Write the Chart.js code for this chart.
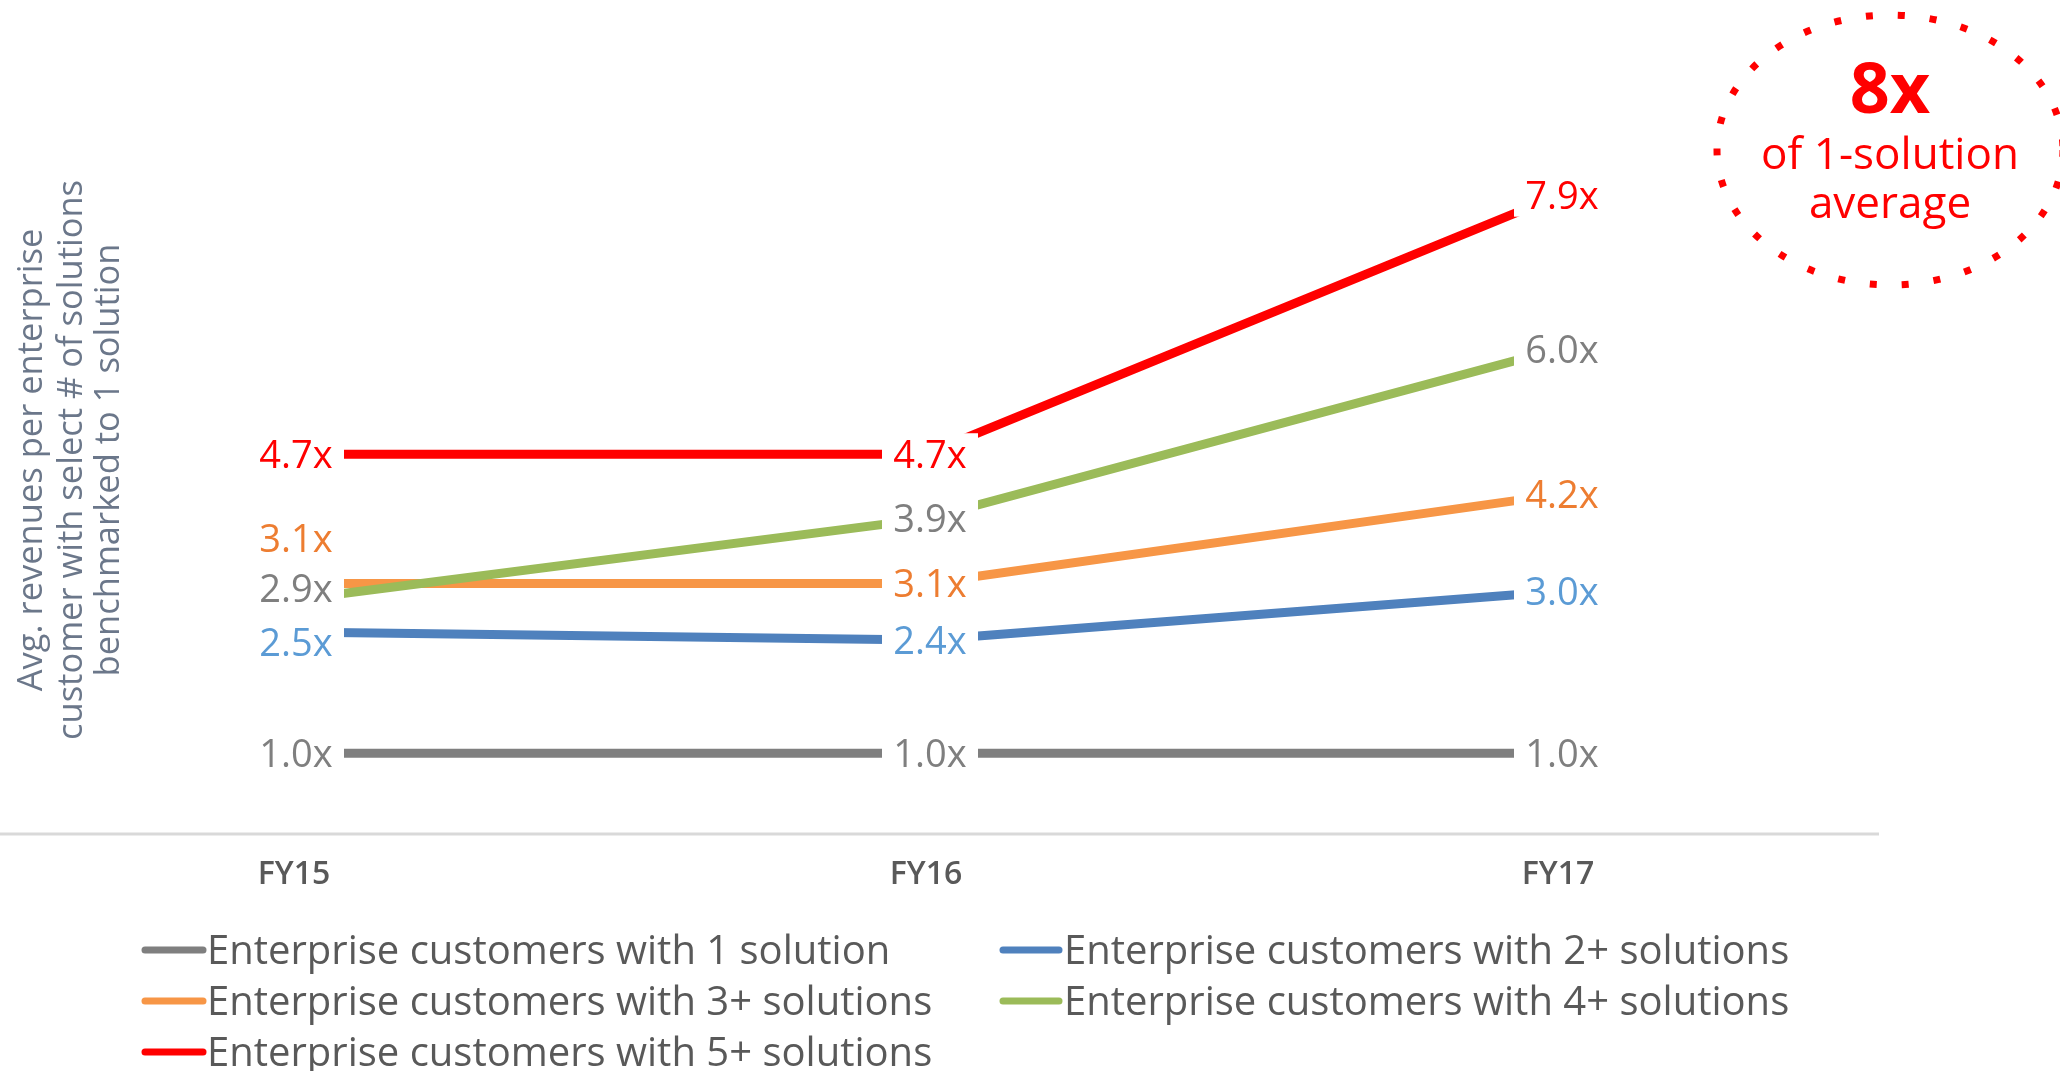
<!DOCTYPE html>
<html>
<head>
<meta charset="utf-8">
<script src="https://cdn.jsdelivr.net/npm/chart.js@4/dist/chart.umd.min.js"></script>
<style>
  html, body { margin: 0; padding: 0; background: #ffffff; }
  #wrap { width: 2060px; height: 1071px; position: relative; }
</style>
</head>
<body>
<div id="wrap"><canvas id="c"></canvas></div>
<script>
// ---- data ----
const categories = ['FY15', 'FY16', 'FY17'];
const seriesNames = [
  'Enterprise customers with 1 solution',
  'Enterprise customers with 2+ solutions',
  'Enterprise customers with 3+ solutions',
  'Enterprise customers with 4+ solutions',
  'Enterprise customers with 5+ solutions'
];
const oneSolution   = [1.0, 1.0, 1.0];
const twoPlus       = [2.5, 2.4, 3.0];
const threePlus     = [3.1, 3.1, 4.2];
const fourPlus      = [2.9, 3.9, 6.0];
const fivePlus      = [4.7, 4.7, 7.9];
const yTitleLines = ['Avg. revenues per enterprise', 'customer with select # of solutions', 'benchmarked to 1 solution'];
const calloutLines = ['8x', 'of 1-solution', 'average'];

// ---- styles ----
const lineColors  = ['#7F7F7F', '#4F81BD', '#F79646', '#9BBB59', '#FF0000'];
const labelColors = ['#7F7F7F', '#5B9BD5', '#ED7D31', '#7F7F7F', '#FF0000'];
const FONT = '"Open Sans", "Noto Sans", sans-serif';

const allSeries = [oneSolution, twoPlus, threePlus, fourPlus, fivePlus];

const decorPlugin = {
  id: 'decor',
  beforeDatasetsDraw(chart) {
    const ctx = chart.ctx;
    const y0 = chart.scales.y.getPixelForValue(0);
    ctx.save();
    ctx.strokeStyle = '#D9D9D9';
    ctx.lineWidth = 3;
    ctx.beginPath();
    ctx.moveTo(0, y0);
    ctx.lineTo(1879, y0);
    ctx.stroke();
    ctx.restore();
  },
  afterDatasetsDraw(chart, args, opts) {
    const ctx = chart.ctx;
    ctx.save();
    const fs = opts.labelFontSize;
    ctx.font = fs + 'px ' + FONT;
    ctx.textAlign = 'center';
    ctx.textBaseline = 'alphabetic';
    chart.data.datasets.forEach((ds, di) => {
      const meta = chart.getDatasetMeta(di);
      meta.data.forEach((pt, i) => {
        const dy = (opts.labelDy[di] && opts.labelDy[di][i]) || 0;
        const cx = pt.x + opts.labelDx[i];
        const cy = pt.y + dy;
        ctx.fillStyle = '#ffffff';
        ctx.fillRect(cx - opts.boxHalfW, cy - opts.boxHalfH, opts.boxHalfW * 2, opts.boxHalfH * 2);
      });
    });
    chart.data.datasets.forEach((ds, di) => {
      const meta = chart.getDatasetMeta(di);
      meta.data.forEach((pt, i) => {
        const dy = (opts.labelDy[di] && opts.labelDy[di][i]) || 0;
        const cx = pt.x + opts.labelDx[i];
        const cy = pt.y + dy;
        ctx.fillStyle = labelColors[di];
        ctx.fillText(ds.data[i].toFixed(1) + 'x', cx, cy + 0.357 * fs);
      });
    });
    ctx.restore();
  },
  afterDraw(chart, args, opts) {
    const ctx = chart.ctx;
    ctx.save();
    // legend
    const cols = [{mx0: 145, mx1: 203, tx: 207}, {mx0: 1003, mx1: 1059, tx: 1064}];
    const rows = [950, 1001, 1052];
    ctx.font = opts.legendFontSize + 'px ' + FONT;
    ctx.textAlign = 'left';
    ctx.textBaseline = 'alphabetic';
    chart.data.datasets.forEach((ds, di) => {
      const c = cols[di % 2];
      const ry = rows[Math.floor(di / 2)];
      ctx.strokeStyle = ds.borderColor;
      ctx.lineWidth = 7;
      ctx.lineCap = 'round';
      ctx.beginPath();
      ctx.moveTo(c.mx0, ry);
      ctx.lineTo(c.mx1, ry);
      ctx.stroke();
      ctx.fillStyle = '#595959';
      ctx.fillText(ds.label, c.tx, ry + 0.357 * opts.legendFontSize);
    });
    // y title
    ctx.fillStyle = '#6B778A';
    ctx.font = opts.yTitleFontSize + 'px ' + FONT;
    ctx.textAlign = 'center';
    ctx.textBaseline = 'middle';
    const xs = [32, 72, 109];
    yTitleLines.forEach((t, i) => {
      ctx.save();
      ctx.translate(xs[i], 460);
      ctx.rotate(-Math.PI / 2);
      ctx.fillText(t, 0, 0);
      ctx.restore();
    });
    // callout circle
    ctx.strokeStyle = '#FF0000';
    ctx.lineWidth = 7;
    ctx.lineCap = 'butt';
    ctx.setLineDash([7, 25]);
    ctx.beginPath();
    ctx.ellipse(1890, 150, 173, 135, 0, 0, Math.PI * 2);
    ctx.stroke();
    ctx.setLineDash([]);
    ctx.fillStyle = '#FF0000';
    ctx.textAlign = 'center';
    ctx.textBaseline = 'alphabetic';
    ctx.font = 'bold 70px ' + FONT;
    ctx.fillText(calloutLines[0], 1890, 113);
    ctx.font = '44px ' + FONT;
    ctx.fillText(calloutLines[1], 1890, 169);
    ctx.fillText(calloutLines[2], 1890, 218);
    ctx.restore();
  }
};

const datasets = allSeries.map((arr, i) => ({
  label: seriesNames[i],
  data: arr,
  borderColor: lineColors[i],
  backgroundColor: lineColors[i],
  borderWidth: 9,
  pointRadius: 0,
  pointHoverRadius: 0,
  tension: 0,
  fill: false,
  order: i === 3 ? -1 : 1
}));

new Chart(document.getElementById('c'), {
  type: 'line',
  data: { labels: categories, datasets },
  plugins: [decorPlugin],
  options: {
    responsive: true,
    maintainAspectRatio: false,
    animation: false,
    devicePixelRatio: 1,
    layout: { padding: { left: 294, right: 502, top: 26, bottom: 0 } },
    plugins: {
      legend: { display: false },
      tooltip: { enabled: false },
      decor: {
        labelFontSize: 38,
        legendFontSize: 40,
        yTitleFontSize: 34.5,
        labelDx: [2, 4, 4],
        labelDy: { 1: [10, 0, 0], 2: [-45, 0, 0], 3: [-11, 0, 0] },
        boxHalfW: 48,
        boxHalfH: 21
      }
    },
    scales: {
      x: {
        type: 'category',
        offset: false,
        grid: { display: false, drawTicks: false },
        border: { display: false },
        ticks: { color: '#595959', font: { family: FONT, size: 32, weight: '600' }, padding: 22, maxRotation: 0 },
        afterFit(scale) { scale.height = 237; }
      },
      y: {
        display: false,
        min: 0,
        max: 10
      }
    }
  }
});
</script>
</body>
</html>
